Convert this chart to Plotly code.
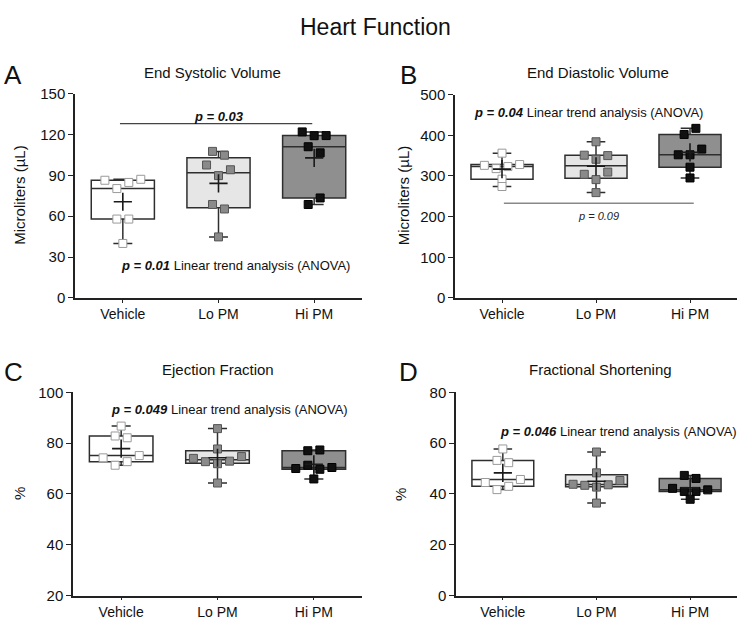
import numpy as np
import plotly.graph_objects as go

# ---------------- data ----------------
groups = ["Vehicle", "Lo PM", "Hi PM"]

esv_vehicle = [86.4, 80.3, 84.8, 87.1, 57.9, 57.9, 40.0]
esv_lo = [107.6, 104.8, 97.6, 89.8, 94.1, 68.6, 65.3, 44.8]
esv_hi = [121.9, 119.1, 119.2, 111.0, 106.5, 68.6, 73.4]

edv_vehicle = [356, 326, 318, 323, 328, 292, 274]
edv_lo = [384, 351, 341, 350, 304, 291, 309.5, 259]
edv_hi = [402, 417, 352, 352, 366, 321.5, 295]

ef_vehicle = [86.7, 82.8, 82.1, 74.2, 71.3, 72.7, 75.1]
ef_lo = [85.7, 77.7, 74.0, 72.7, 71.9, 72.9, 74.7, 64.3]
ef_hi = [77.0, 77.3, 70.0, 71.3, 69.7, 70.4, 65.9]

fs_vehicle = [57.7, 53.2, 52.3, 44.5, 41.7, 43.0, 45.7]
fs_lo = [56.5, 48.3, 43.8, 43.4, 42.7, 43.6, 45.3, 36.4]
fs_hi = [47.3, 46.1, 42.2, 41.0, 41.0, 41.6, 37.9]

esv_ticks = [0, 30, 60, 90, 120, 150]
edv_ticks = [0, 100, 200, 300, 400, 500]
ef_ticks = [20, 40, 60, 80, 100]
fs_ticks = [0, 20, 40, 60, 80]

# ---------------- layout / style ----------------
W, H = 750, 625
FONT = "Liberation Sans, Arial, sans-serif"
AX = "#222222"

# panel rectangles in pixels: (left, right, top, bottom)
panels = [
    dict(key="A", title="End Systolic Volume", ytitle="Microliters (µL)",
         data=[esv_vehicle, esv_lo, esv_hi], ticks=esv_ticks,
         rect=(75, 362, 87, 297), ytx=20, tx=213, ty=65, lx=13, ly=68),
    dict(key="B", title="End Diastolic Volume", ytitle="Microliters (µL)",
         data=[edv_vehicle, edv_lo, edv_hi], ticks=edv_ticks,
         rect=(455, 737, 88, 297), ytx=403, tx=598, ty=65, lx=408, ly=68),
    dict(key="C", title="Ejection Fraction", ytitle="%",
         data=[ef_vehicle, ef_lo, ef_hi], ticks=ef_ticks,
         rect=(73, 362, 394, 603), ytx=20, tx=218, ty=371, lx=13, ly=373),
    dict(key="D", title="Fractional Shortening", ytitle="%",
         data=[fs_vehicle, fs_lo, fs_hi], ticks=fs_ticks,
         rect=(456, 737, 394, 603), ytx=401, tx=600, ty=371, lx=408, ly=373),
]

box_fill = ["#ffffff", "#e6e6e6", "#8f8f8f"]
mk_fill = ["#ffffff", "#8a8a8a", "#111111"]
mk_line = ["#9a9a9a", "#555555", "#000000"]
MSIZE = 8


def swarm_offsets(values, px_per_unit, gap_px=7.0, step=0.125):
    order = sorted(range(len(values)), key=lambda i: -values[i])
    grp = []
    prev = None
    for i in order:
        if prev is not None and (values[prev] - values[i]) * px_per_unit < gap_px:
            grp[-1].append(i)
        else:
            grp.append([i])
        prev = i
    offs = [0.0] * len(values)
    for g in grp:
        g = sorted(g)
        k = len(g)
        for j, i in enumerate(g):
            offs[i] = (j - (k - 1) / 2) * step
    return offs


fig = go.Figure()
annotations = []
shapes = []

for n, p in enumerate(panels):
    sfx = "" if n == 0 else str(n + 1)
    xa, ya = "x" + sfx, "y" + sfx
    left, right, top, bottom = p["rect"]
    ymin, ymax = p["ticks"][0], p["ticks"][-1]
    ppu = (bottom - top) / (ymax - ymin)

    for g, vals in enumerate(p["data"]):
        v = np.array(vals, dtype=float)
        q1, med, q3 = np.percentile(v, [25, 50, 75], method="weibull")
        fig.add_trace(go.Box(
            x=[g], q1=[q1], median=[med], q3=[q3],
            lowerfence=[v.min()], upperfence=[v.max()],
            width=0.66, whiskerwidth=0.3, boxpoints=False,
            fillcolor=box_fill[g], line=dict(color="#2e2e2e", width=1.5),
            xaxis=xa, yaxis=ya, showlegend=False, hoverinfo="skip"))
        offs = swarm_offsets(vals, ppu)
        fig.add_trace(go.Scatter(
            x=[g + o for o in offs], y=vals, mode="markers",
            marker=dict(symbol="square", size=MSIZE, color=mk_fill[g],
                        line=dict(color=mk_line[g], width=1)),
            xaxis=xa, yaxis=ya, showlegend=False, hoverinfo="skip"))
        fig.add_trace(go.Scatter(
            x=[g], y=[v.mean()], mode="markers",
            marker=dict(symbol="cross-thin", size=13,
                        line=dict(color="#1a1a1a", width=1.6)),
            xaxis=xa, yaxis=ya, showlegend=False, hoverinfo="skip"))

    dom_x = [left / W, right / W]
    dom_y = [1 - bottom / H, 1 - top / H]
    fig.layout["xaxis" + sfx] = dict(
        domain=dom_x, anchor=ya, range=[-0.5, 2.5], tickvals=[0, 1, 2],
        ticktext=groups, showline=True, linecolor=AX, linewidth=1.5,
        ticks="outside", ticklen=3, tickcolor=AX, showgrid=False,
        zeroline=False, tickfont=dict(size=14, color="#111", family=FONT))
    fig.layout["yaxis" + sfx] = dict(
        domain=dom_y, anchor=xa, range=[ymin, ymax], tickvals=p["ticks"],
        showline=True, linecolor=AX, linewidth=1.5, ticks="outside",
        ticklen=5, tickcolor=AX, showgrid=False, zeroline=False,
        tickfont=dict(size=15, color="#111", family=FONT))

    # panel title, letter, y-title
    annotations.append(dict(text=p["title"], x=p["tx"] / W, y=1 - p["ty"] / H,
                            xref="paper", yref="paper", showarrow=False,
                            xanchor="center", yanchor="middle",
                            font=dict(size=15, color="#111", family=FONT)))
    annotations.append(dict(text=p["key"], x=p["lx"] / W, y=1 - p["ly"] / H,
                            xref="paper", yref="paper", showarrow=False,
                            xanchor="center", yanchor="middle",
                            font=dict(size=26, color="#111", family=FONT)))
    annotations.append(dict(text=p["ytitle"], x=p["ytx"] / W,
                            y=1 - (top + bottom) / 2 / H, textangle=-90,
                            xref="paper", yref="paper", showarrow=False,
                            xanchor="center", yanchor="middle",
                            font=dict(size=15, color="#111", family=FONT)))

# statistics annotations
stat_font = dict(size=13, color="#111", family=FONT)
annotations += [
    dict(text="<b><i>p = 0.03</i></b>", x=1, y=133.5, xref="x", yref="y",
         showarrow=False, font=stat_font),
    dict(text="<b><i>p = 0.01</i></b> Linear trend analysis (ANOVA)",
         x=1.18, y=24, xref="x", yref="y", showarrow=False, font=stat_font),
    dict(text="<b><i>p = 0.04</i></b> Linear trend analysis (ANOVA)",
         x=0.92, y=457, xref="x2", yref="y2", showarrow=False, font=stat_font),
    dict(text="<i>p = 0.09</i>", x=1.03, y=202, xref="x2", yref="y2",
         showarrow=False, font=dict(size=11, color="#222", family=FONT)),
    dict(text="<b><i>p = 0.049</i></b> Linear trend analysis (ANOVA)",
         x=1.12, y=93.1, xref="x3", yref="y3", showarrow=False, font=stat_font),
    dict(text="<b><i>p = 0.046</i></b> Linear trend analysis (ANOVA)",
         x=1.23, y=64.7, xref="x4", yref="y4", showarrow=False, font=stat_font),
    dict(text="Heart Function", x=0.5, y=1 - 18 / H, xref="paper", yref="paper",
         showarrow=False, xanchor="center", yanchor="middle",
         font=dict(size=23, color="#111", family=FONT)),
]
shapes += [
    dict(type="line", xref="x", yref="y", x0=-0.03, x1=1.98, y0=128, y1=128,
         line=dict(color="#444", width=1.2)),
    dict(type="line", xref="x2", yref="y2", x0=0.02, x1=2.04, y0=233, y1=233,
         line=dict(color="#888", width=1.5)),
]

fig.update_layout(
    width=W, height=H, margin=dict(l=0, r=0, t=0, b=0),
    paper_bgcolor="white", plot_bgcolor="white",
    annotations=annotations, shapes=shapes, showlegend=False,
    font=dict(family=FONT, color="#111"),
)

fig.write_html("out.html",
               config={"displayModeBar": False},
               post_script="document.body.style.margin='0px';"
                           "document.body.style.padding='0px';"
                           "document.body.style.overflow='hidden';")
